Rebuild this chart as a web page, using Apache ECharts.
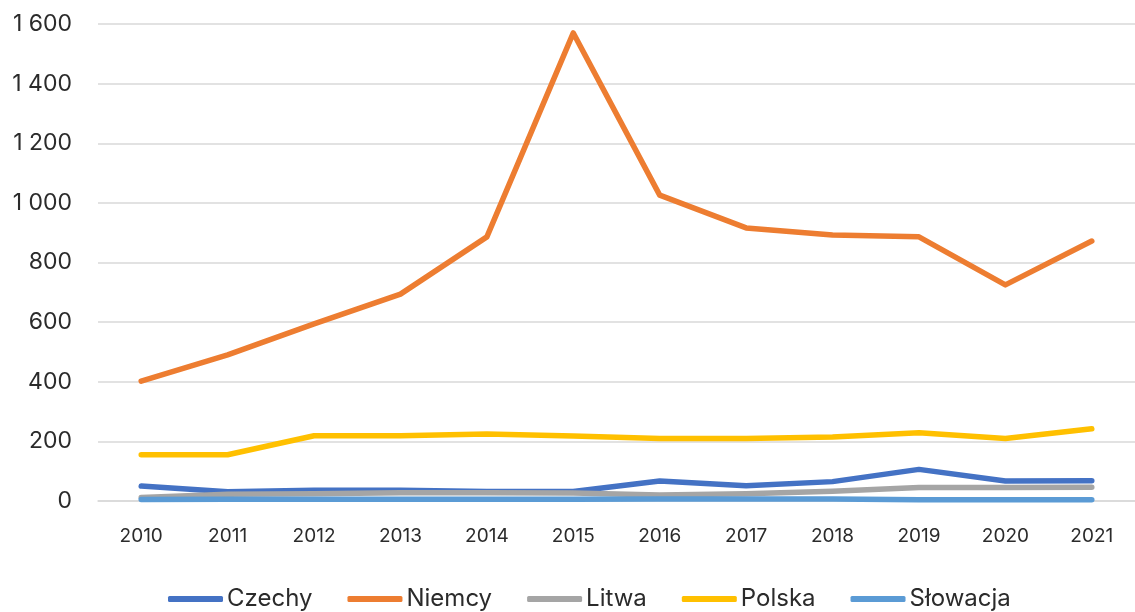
<!DOCTYPE html>
<html>
<head>
<meta charset="utf-8">
<script src="https://cdn.jsdelivr.net/npm/echarts@6/dist/echarts.min.js"></script>
<style>
  html, body { margin: 0; padding: 0; background: #ffffff; }
  #chart { width: 1135px; height: 612px; }
</style>
</head>
<body>
<div id="chart"></div>
<script>
// Years on the category axis
const years = ['2010', '2011', '2012', '2013', '2014', '2015', '2016', '2017', '2018', '2019', '2020', '2021'];

// Values per country
const czechy   = [50, 31, 36, 36, 32, 32, 67, 51, 65, 106, 67, 68];
const niemcy   = [402, 490, 594, 694, 886, 1570, 1026, 916, 892, 886, 725, 872];
const litwa    = [12, 23, 24, 28, 28, 27, 20, 24, 33, 45, 45, 46];
const polska   = [155, 155, 219, 219, 225, 218, 210, 210, 215, 229, 210, 242];
const slowacja = [5, 6, 6, 6, 6, 6, 7, 7, 7, 4, 4, 4];

// Value axis ticks
const yMin = 0;
const yMax = 1600;
const yStep = 200;

const seriesNames = ['Czechy', 'Niemcy', 'Litwa', 'Polska', 'Słowacja'];
const seriesData = [czechy, niemcy, litwa, polska, slowacja];
const seriesColors = ['#4472C4', '#ED7D31', '#A5A5A5', '#FFC000', '#5B9BD5'];

const fontFamily = 'Inter, "Noto Sans", sans-serif';
const textColor = '#2b2b2b';

function formatThousands(v) {
  const s = String(v);
  return s.length > 3 ? s.slice(0, s.length - 3) + ' ' + s.slice(-3) : s;
}

const chart = echarts.init(document.getElementById('chart'), null, { renderer: 'canvas' });

chart.setOption({
  animation: false,
  backgroundColor: '#ffffff',
  color: seriesColors,
  grid: {
    left: 98,
    top: 24,
    width: 1047,
    height: 477,
    containLabel: false
  },
  legend: {
    data: seriesNames,
    left: 163,
    top: 582,
    icon: 'roundRect',
    itemWidth: 55,
    itemHeight: 6,
    itemGap: 35,
    textStyle: { fontFamily: fontFamily, fontSize: 24, color: textColor, padding: [0, 0, 0, -1] }
  },
  xAxis: {
    type: 'category',
    data: years,
    boundaryGap: true,
    axisLine: { show: true, lineStyle: { color: '#d9d9d9', width: 1.5 } },
    axisTick: { show: false },
    axisLabel: { fontFamily: fontFamily, fontSize: 19, color: textColor, margin: 26 }
  },
  yAxis: {
    type: 'value',
    min: yMin,
    max: yMax,
    interval: yStep,
    axisLine: { show: false },
    axisTick: { show: false },
    splitLine: { show: true, lineStyle: { color: '#d9d9d9', width: 1.5 } },
    axisLabel: {
      fontFamily: fontFamily, fontSize: 23, color: textColor, margin: 26,
      formatter: formatThousands
    }
  },
  series: seriesNames.map((name, i) => ({
    name: name,
    type: 'line',
    data: seriesData[i],
    symbol: 'none',
    smooth: false,
    lineStyle: { width: 5.5, color: seriesColors[i], cap: 'round', join: 'round' },
    itemStyle: { color: seriesColors[i] }
  }))
});
</script>
</body>
</html>
